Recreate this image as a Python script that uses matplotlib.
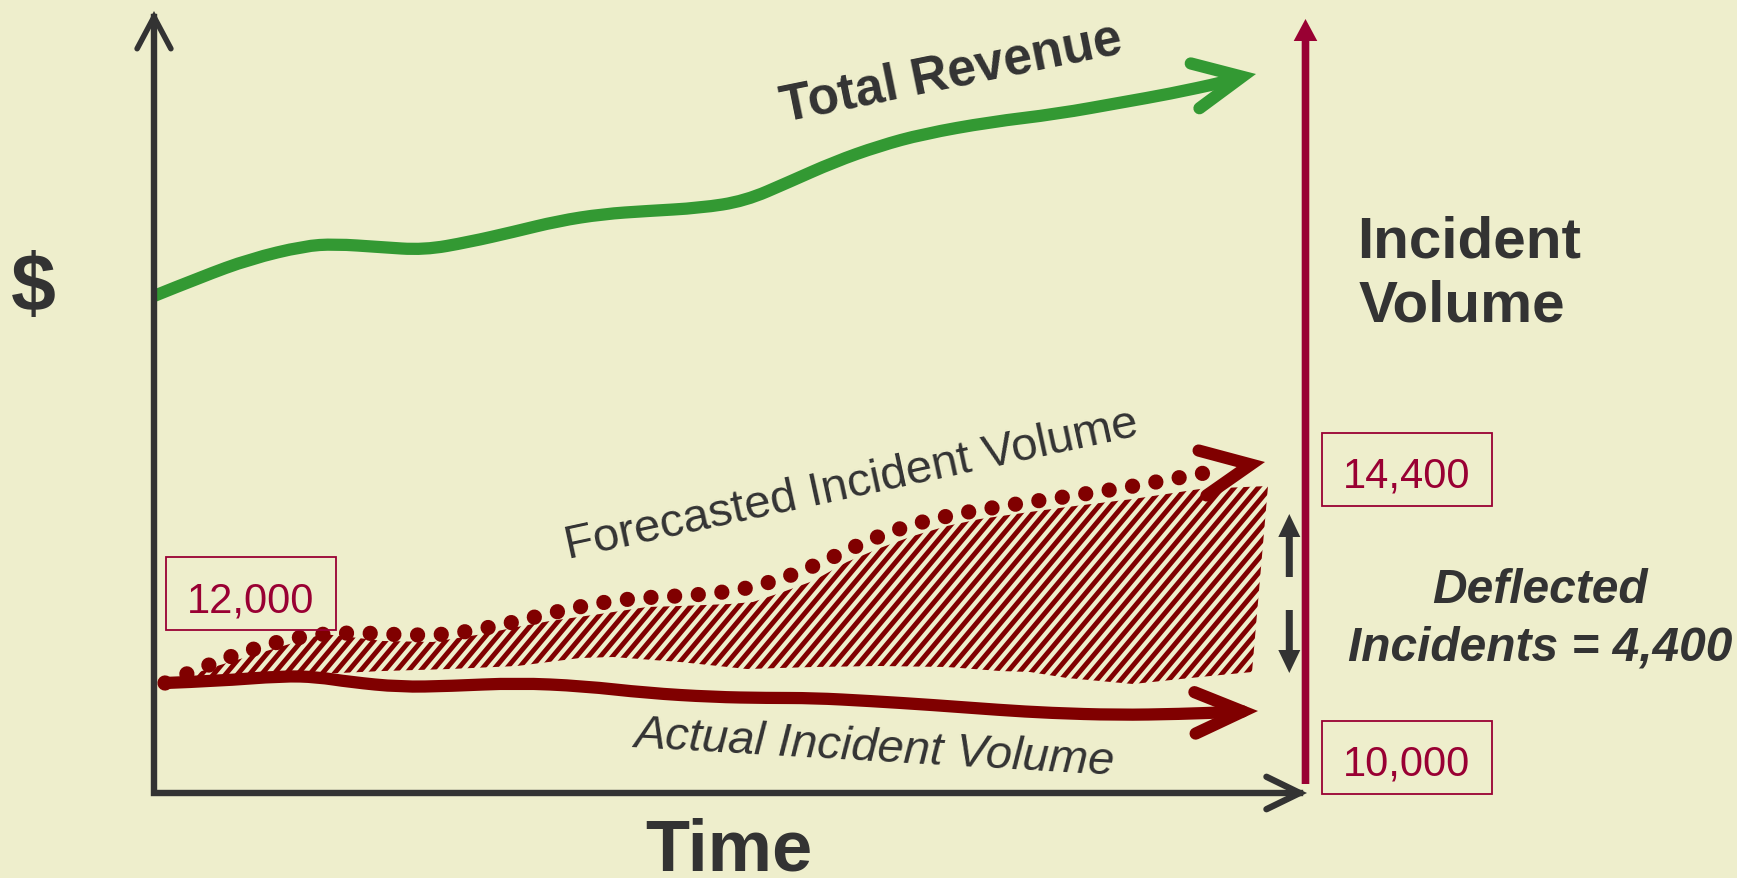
import numpy as np
import matplotlib
matplotlib.use("Agg")
import matplotlib.pyplot as plt
from matplotlib.patches import Rectangle, Polygon, PathPatch
from matplotlib.path import Path

# ---------------- data (diagram units: time to the right of the origin, value above the time axis) ----
revenue_t = [0, 47, 96, 150, 181, 225, 270, 315, 359, 404, 449, 493, 546, 591, 635, 680, 725, 769, 836, 903,
             970, 1015, 1071, 1102]
revenue_v = [497, 516, 534, 547, 549, 546, 543, 551, 561, 572, 579, 582, 585, 592, 611, 631, 647, 659, 671, 679,
             691, 699, 711, 719]

forecast_t = [11, 56, 101, 148, 196, 244, 292, 339, 385, 432, 480, 528, 576, 623, 667, 710, 755, 802, 849, 896,
              944, 992, 1039, 1062]
forecast_v = [110, 129, 145, 157, 161, 158, 158, 166, 177, 188, 195, 197, 201, 212, 230, 251, 268, 279, 287, 294,
              301, 309, 318, 322]
forecast_tip = (1111, 331)

actual_t = [11, 63, 129, 163, 196, 246, 296, 363, 429, 493, 559, 613, 659, 716, 779, 846, 896, 963, 1026, 1079, 1104]
actual_v = [110, 112, 117, 116, 111, 106, 107, 110, 107, 100, 96, 95, 95, 92, 88, 83, 80, 78, 79, 81, 82]

deflect_upper_t = [12, 63, 129, 169, 196, 229, 279, 329, 363, 396, 446, 493, 526, 576, 599, 626, 659, 693, 726,
                   759, 793, 826, 876, 913, 979, 1046, 1114]
deflect_upper_v = [110, 127, 147, 159, 156, 152, 151, 159, 166, 172, 179, 186, 187, 189, 191, 200, 212, 231, 245,
                   257, 267, 274, 281, 286, 294, 304, 307]
deflect_lower_t = [12, 63, 129, 163, 229, 296, 363, 426, 459, 526, 593, 659, 726, 793, 846, 876, 913, 979, 1046, 1098]
deflect_lower_v = [109, 112, 119, 119, 122, 124, 127, 135, 136, 131, 124, 126, 127, 126, 122, 121, 115, 109, 116, 121]

value_labels = ["12,000", "14,400", "10,000"]
value_label_pos = [(97, 199.5), (1252.5, 323.5), (1252.5, 35.5)]

title_revenue = "Total Revenue"
title_forecast = "Forecasted Incident Volume"
title_actual = "Actual Incident Volume"
axis_x_label = "Time"
axis_y_label = "$"
right_axis_label = ["Incident", "Volume"]
deflected_label = ["Deflected", "Incidents = 4,400"]

# ---------------- style ----------------
BG = "#EEEECC"
GREEN = "#339933"
DRED = "#800000"
CRIMSON = "#990033"
DARK = "#333333"
FONT = "Liberation Sans"
PX = 100 / 72.0  # pixels per point

fig = plt.figure(figsize=(17.37, 8.79), dpi=100, facecolor=BG)
ax = fig.add_axes([0, 0, 1, 1])
ax.set_facecolor(BG)
ax.set_xlim(-154, 1583)
ax.set_ylim(-85, 794)
ax.axis("off")


def chevron(tip, ang, length, half, color, lw, z):
    """Open arrowhead whose visible (mitred) point sits at tip; returns the inner vertex."""
    a = np.deg2rad(ang)
    h = np.deg2rad(half)
    off = (lw * PX / 2) / np.sin(h)
    vx, vy = tip[0] - off * np.cos(a), tip[1] - off * np.sin(a)
    xs = [vx + length * np.cos(a + np.pi - h), vx, vx + length * np.cos(a + np.pi + h)]
    ys = [vy + length * np.sin(a + np.pi - h), vy, vy + length * np.sin(a + np.pi + h)]
    ax.plot(xs, ys, color=color, lw=lw, solid_capstyle="round", solid_joinstyle="miter", zorder=z)
    return vx, vy


def smooth_path(t, v):
    pts = np.column_stack([t, v]).astype(float)
    verts = [pts[0]]
    codes = [Path.MOVETO]
    for i in range(1, len(pts) - 1):
        verts += [pts[i], (pts[i] + pts[i + 1]) / 2]
        codes += [Path.CURVE3, Path.CURVE3]
    verts.append(pts[-1])
    codes.append(Path.LINETO)
    return Path(verts, codes)


def curve(t, v, color, lw, z, cap="round", ls="solid"):
    p = PathPatch(smooth_path(t, v), fill=False, ec=color, lw=lw, capstyle=cap,
                  joinstyle="round", linestyle=ls, zorder=z)
    ax.add_patch(p)


# ---- main axes (L shape with open arrowheads) ----
top = chevron((0, 782), 90, 36, 28, DARK, 4.0, 5)
right = chevron((1153, 0), 0, 37, 26, DARK, 4.6, 5)
ax.plot([0, 0, right[0]], [top[1], 0, 0], color=DARK, lw=4.6, solid_joinstyle="miter", zorder=5)

# ---- right incident volume axis ----
ax.arrow(1151.5, 9, 0, 765, width=7.6, head_width=23.6, head_length=22,
         length_includes_head=True, fc=CRIMSON, ec="none", zorder=5)

# ---- deflected area: striped fill ----
poly_x = np.concatenate([deflect_upper_t, deflect_lower_t[::-1]])
poly_y = np.concatenate([deflect_upper_v, deflect_lower_v[::-1]])
region = Polygon(np.column_stack([poly_x, poly_y]), closed=True, fc="none", ec="none")
ax.add_patch(region)
k = np.tan(np.deg2rad(50))
for c in np.arange(-400, 1200, 12.0):
    ln, = ax.plot([c, c + 400], [0, 400 * k], color=DRED, lw=3.5, solid_capstyle="butt", zorder=2)
    ln.set_clip_path(region)

# ---- revenue ----
v_end = chevron((revenue_t[-1], revenue_v[-1]), 11, 53, 25.5, GREEN, 8.8, 3)
curve(revenue_t[:-1] + [v_end[0]], revenue_v[:-1] + [v_end[1]], GREEN, 8.8, 3, cap="butt")

# ---- actual incidents ----
v_end = chevron((actual_t[-1], actual_v[-1]), 1.7, 52, 23.5, DRED, 8.8, 3)
curve(actual_t[:-1] + [v_end[0]], actual_v[:-1] + [v_end[1]], DRED, 8.8, 3)

# ---- forecast incidents (dotted) ----
curve(forecast_t, forecast_v, DRED, 11.0, 3, ls=(0, (0.001, 1.55)))
chevron(forecast_tip, 10, 54, 25, DRED, 8.8, 3)

# ---- up/down arrows ----
ax.arrow(1135.3, 216, 0, 63, width=7, head_width=22, head_length=23,
         length_includes_head=True, fc=DARK, ec="none", zorder=4)
ax.arrow(1135.3, 183, 0, -63, width=7, head_width=22, head_length=23,
         length_includes_head=True, fc=DARK, ec="none", zorder=4)

# ---- value boxes ----
for lab, (cx, cy) in zip(value_labels, value_label_pos):
    ax.add_patch(Rectangle((cx - 85, cy - 36.5), 170, 73, fill=False, ec=CRIMSON, lw=1.3, zorder=4))
    ax.text(cx, cy - 17.5, lab, ha="center", va="baseline", fontsize=30, color=CRIMSON,
            family=FONT, zorder=4)

# ---- texts ----
ax.text(-120.5, 483, axis_y_label, ha="center", va="baseline", fontsize=58, fontweight="bold",
        color=DARK, family=FONT)
ax.text(574.5, -77, axis_x_label, ha="center", va="baseline", fontsize=52, fontweight="bold",
        color=DARK, family=FONT)
ax.text(800, 707, title_revenue, ha="center", va="baseline", rotation=11.5, rotation_mode="anchor",
        fontsize=37, fontweight="bold", color=DARK, family=FONT)
ax.text(1203, 537, right_axis_label[0], ha="left", va="baseline", fontsize=42, fontweight="bold",
        color=DARK, family=FONT)
ax.text(1205, 473, right_axis_label[1], ha="left", va="baseline", fontsize=42, fontweight="bold",
        color=DARK, family=FONT)
ax.text(1386, 191, deflected_label[0], ha="center", va="baseline", fontsize=34.5, fontweight="bold",
        fontstyle="italic", color=DARK, family=FONT)
ax.text(1386, 133, deflected_label[1], ha="center", va="baseline", fontsize=34.5, fontweight="bold",
        fontstyle="italic", color=DARK, family=FONT)
ax.text(700.5, 297, title_forecast, ha="center", va="baseline", rotation=12.2, rotation_mode="anchor",
        fontsize=34, color=DARK, family=FONT)
ax.text(719.7, 33, title_actual, ha="center", va="baseline", rotation=-3.3, rotation_mode="anchor",
        fontsize=34, fontstyle="italic", color=DARK, family=FONT)

fig.savefig("out.png", dpi=100, facecolor=BG)
